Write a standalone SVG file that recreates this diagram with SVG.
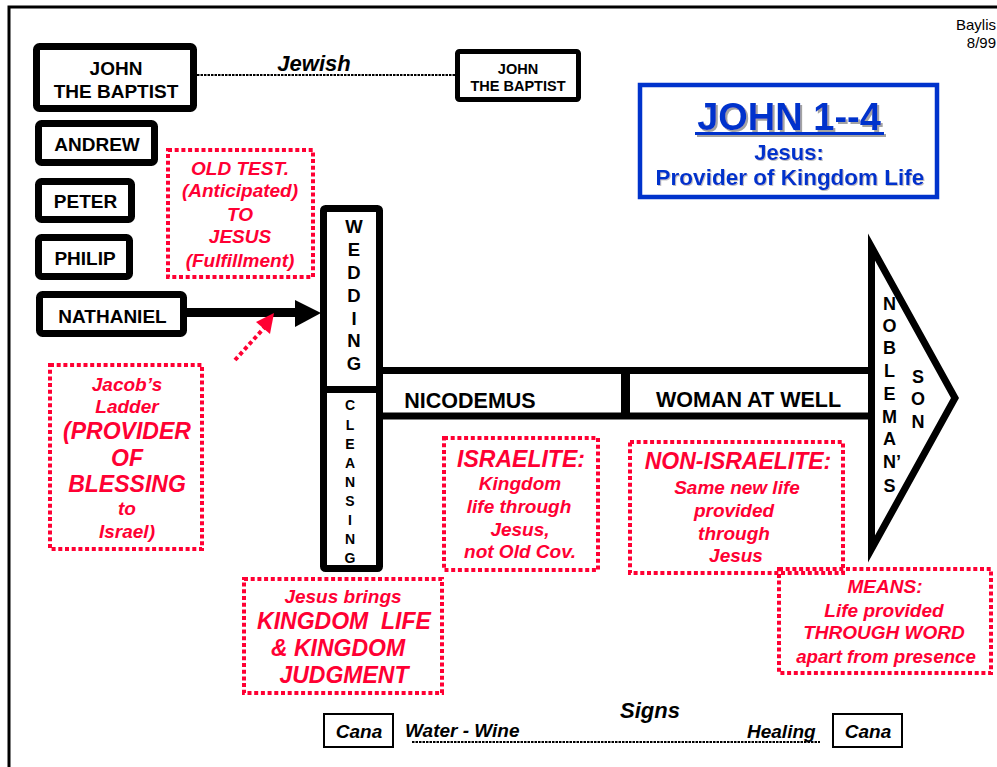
<svg xmlns="http://www.w3.org/2000/svg" width="997" height="767" viewBox="0 0 997 767">
<style>
text{font-family:"Liberation Sans",Arial,sans-serif;}
.box{fill:#fff;stroke:#000;stroke-width:7;}
.lbl{font-size:19px;font-weight:bold;fill:#000;text-anchor:middle;}
.vl{font-size:18.5px;font-weight:bold;fill:#000;text-anchor:middle;}
.vs{font-size:14px;font-weight:bold;fill:#000;text-anchor:middle;}
.rbox{fill:none;stroke:#FF0033;stroke-width:4;stroke-dasharray:4 2.7;}
.r{font-size:19px;font-weight:bold;font-style:italic;fill:#FF0033;text-anchor:middle;}
.rb{font-size:23px;font-weight:bold;font-style:italic;fill:#FF0033;text-anchor:middle;}
.bi{font-size:19px;font-weight:bold;font-style:italic;fill:#000;}
.dot{stroke:#000;stroke-width:2;stroke-dasharray:2.5 1;fill:none;}
.blue{fill:#0033CC;font-weight:bold;text-anchor:middle;}
</style>
<defs>
<filter id="sh" x="-10%" y="-20%" width="130%" height="150%">
<feDropShadow dx="2" dy="2" stdDeviation="0.4" flood-color="#999" flood-opacity="0.9"/>
</filter>
<filter id="sh2" x="-10%" y="-20%" width="130%" height="150%">
<feDropShadow dx="1" dy="1" stdDeviation="0.4" flood-color="#999" flood-opacity="0.6"/>
</filter>
</defs>

<path d="M9,767 V7 H997" fill="none" stroke="#000" stroke-width="3"/>

<g id="baylis">
<text x="996" y="30" font-size="15" text-anchor="end">Baylis</text>
<text x="996" y="48" font-size="15" text-anchor="end">8/99</text>
</g>

<g id="connectors">
<line class="dot" x1="197" y1="75" x2="456" y2="75"/>
<line class="dot" x1="412" y1="742" x2="820" y2="742"/>
<line x1="186" y1="312.5" x2="298" y2="312.5" stroke="#000" stroke-width="9"/>
<polygon points="295,300 321,313 295,327" fill="#000"/>
<line x1="235" y1="360" x2="264" y2="328" stroke="#FF0033" stroke-width="4" stroke-dasharray="4 3"/>
<polygon points="274,313 256,322 270,334" fill="#FF0033"/>
</g>

<g id="jewish-label">
<text class="bi" x="314" y="71" text-anchor="middle" style="font-size:22px">Jewish</text>
</g>

<g id="john-baptist-1">
<rect class="box" x="36.5" y="46.5" width="157" height="62" rx="3"/>
<text class="lbl" x="116" y="75">JOHN</text>
<text class="lbl" x="116" y="98">THE BAPTIST</text>
</g>
<g id="andrew">
<rect class="box" x="38.5" y="123.5" width="116" height="39" rx="3"/>
<text class="lbl" x="97" y="151">ANDREW</text>
</g>
<g id="peter">
<rect class="box" x="38.5" y="181.5" width="93" height="38" rx="3"/>
<text class="lbl" x="85.5" y="208">PETER</text>
</g>
<g id="philip">
<rect class="box" x="38.5" y="237.5" width="91" height="39" rx="3"/>
<text class="lbl" x="85" y="265">PHILIP</text>
</g>
<g id="nathaniel">
<rect class="box" x="39.5" y="294.5" width="144" height="39" rx="3"/>
<text class="lbl" x="112.5" y="323">NATHANIEL</text>
</g>
<g id="john-baptist-2">
<rect x="457.5" y="51.5" width="121" height="48" rx="2" fill="#fff" stroke="#000" stroke-width="5"/>
<text class="lbl" x="518" y="74" style="font-size:14.5px">JOHN</text>
<text class="lbl" x="518" y="91" style="font-size:14.5px">THE BAPTIST</text>
</g>

<g id="title">
<rect x="640" y="85" width="297" height="112" fill="#fff" stroke="#0033CC" stroke-width="4.5"/>
<g filter="url(#sh)">
<text class="blue" x="789" y="130" font-size="38">JOHN 1--4</text>
<line x1="695" y1="133.5" x2="884" y2="133.5" stroke="#0033CC" stroke-width="3"/>
</g>
<g filter="url(#sh2)">
<text class="blue" x="789" y="160" font-size="22">Jesus:</text>
<text class="blue" x="790" y="185" font-size="22.5">Provider of Kingdom Life</text>
</g>
</g>

<g id="band">
<rect x="379.5" y="370.5" width="492" height="45.5" fill="#fff" stroke="#000" stroke-width="7"/>
<line x1="625.5" y1="370" x2="625.5" y2="416" stroke="#000" stroke-width="9"/>
<text class="lbl" x="470" y="408" style="font-size:21.5px">NICODEMUS</text>
<text class="lbl" x="748.5" y="407" style="font-size:21.5px">WOMAN AT WELL</text>
</g>

<g id="wedding-cleansing">
<rect class="box" x="323.5" y="208.5" width="56" height="360" rx="2"/>
<line x1="321" y1="389.5" x2="382" y2="389.5" stroke="#000" stroke-width="7"/>
<text class="vl" x="354" y="233">W</text>
<text class="vl" x="354" y="256">E</text>
<text class="vl" x="354" y="279">D</text>
<text class="vl" x="354" y="302">D</text>
<text class="vl" x="354" y="325">I</text>
<text class="vl" x="354" y="347">N</text>
<text class="vl" x="354" y="370">G</text>
<text class="vs" x="350" y="410">C</text>
<text class="vs" x="350" y="430">L</text>
<text class="vs" x="350" y="449">E</text>
<text class="vs" x="350" y="468">A</text>
<text class="vs" x="350" y="487">N</text>
<text class="vs" x="350" y="506">S</text>
<text class="vs" x="350" y="525">I</text>
<text class="vs" x="350" y="544">N</text>
<text class="vs" x="350" y="563">G</text>
</g>

<g id="noblemans-son">
<polygon points="871.5,247 955,398 871.5,549" fill="#fff" stroke="#000" stroke-width="7" stroke-miterlimit="10"/>
<text class="vl" x="889.5" y="310" style="font-size:18px">N</text>
<text class="vl" x="889.5" y="332" style="font-size:18px">O</text>
<text class="vl" x="889.5" y="354" style="font-size:18px">B</text>
<text class="vl" x="889.5" y="377" style="font-size:18px">L</text>
<text class="vl" x="889.5" y="400" style="font-size:18px">E</text>
<text class="vl" x="889.5" y="423" style="font-size:18px">M</text>
<text class="vl" x="889.5" y="445" style="font-size:18px">A</text>
<text class="vl" x="883" y="468" style="font-size:18px;text-anchor:start">N’</text>
<text class="vl" x="889.5" y="492" style="font-size:18px">S</text>
<text class="vl" x="918" y="383" style="font-size:18px">S</text>
<text class="vl" x="918" y="405" style="font-size:18px">O</text>
<text class="vl" x="918" y="428" style="font-size:18px">N</text>
</g>

<g id="old-test">
<rect class="rbox" x="168" y="150" width="145" height="127"/>
<text class="r" x="240" y="175">OLD TEST.</text>
<text class="r" x="240" y="197">(Anticipated)</text>
<text class="r" x="240" y="221">TO</text>
<text class="r" x="240" y="243">JESUS</text>
<text class="r" x="240" y="267">(Fulfillment)</text>
</g>

<g id="jacobs-ladder">
<rect class="rbox" x="50" y="365" width="152" height="184"/>
<text class="r" x="127" y="391">Jacob’s</text>
<text class="r" x="127" y="413">Ladder</text>
<text class="rb" x="127" y="439">(PROVIDER</text>
<text class="rb" x="127" y="466">OF</text>
<text class="rb" x="127" y="492">BLESSING</text>
<text class="r" x="127" y="515">to</text>
<text class="r" x="127" y="538">Israel)</text>
</g>

<g id="israelite">
<rect class="rbox" x="444" y="438" width="154" height="132"/>
<text class="rb" x="521" y="467">ISRAELITE:</text>
<text class="r" x="520" y="490">Kingdom</text>
<text class="r" x="519" y="513">life through</text>
<text class="r" x="520" y="536">Jesus,</text>
<text class="r" x="520" y="558">not Old Cov.</text>
</g>

<g id="non-israelite">
<rect class="rbox" x="630" y="442" width="213" height="131"/>
<text class="rb" x="738" y="469">NON-ISRAELITE:</text>
<text class="r" x="737" y="494">Same new life</text>
<text class="r" x="734" y="517">provided</text>
<text class="r" x="734" y="540">through</text>
<text class="r" x="736" y="562">Jesus</text>
</g>

<g id="means">
<rect class="rbox" x="779" y="569" width="212" height="104"/>
<text class="r" x="885" y="593">MEANS:</text>
<text class="r" x="884" y="617">Life provided</text>
<text class="r" x="884" y="639">THROUGH WORD</text>
<text class="r" x="886" y="663" style="font-size:18.7px">apart from presence</text>
</g>

<g id="jesus-brings">
<rect class="rbox" x="244" y="579" width="198" height="114"/>
<text class="r" x="343" y="603">Jesus brings</text>
<text class="rb" x="344" y="629" xml:space="preserve">KINGDOM  LIFE</text>
<text class="rb" x="338" y="656">&amp; KINGDOM</text>
<text class="rb" x="344" y="683">JUDGMENT</text>
</g>

<g id="signs">
<rect x="324" y="714" width="69" height="33" fill="#fff" stroke="#000" stroke-width="2"/>
<text class="bi" x="359" y="738" text-anchor="middle">Cana</text>
<text class="bi" x="405" y="737">Water - Wine</text>
<text class="bi" x="650" y="718" text-anchor="middle" style="font-size:22px">Signs</text>
<text class="bi" x="747" y="738">Healing</text>
<rect x="833" y="714" width="69" height="33" fill="#fff" stroke="#000" stroke-width="2"/>
<text class="bi" x="868" y="738" text-anchor="middle">Cana</text>
</g>
</svg>
